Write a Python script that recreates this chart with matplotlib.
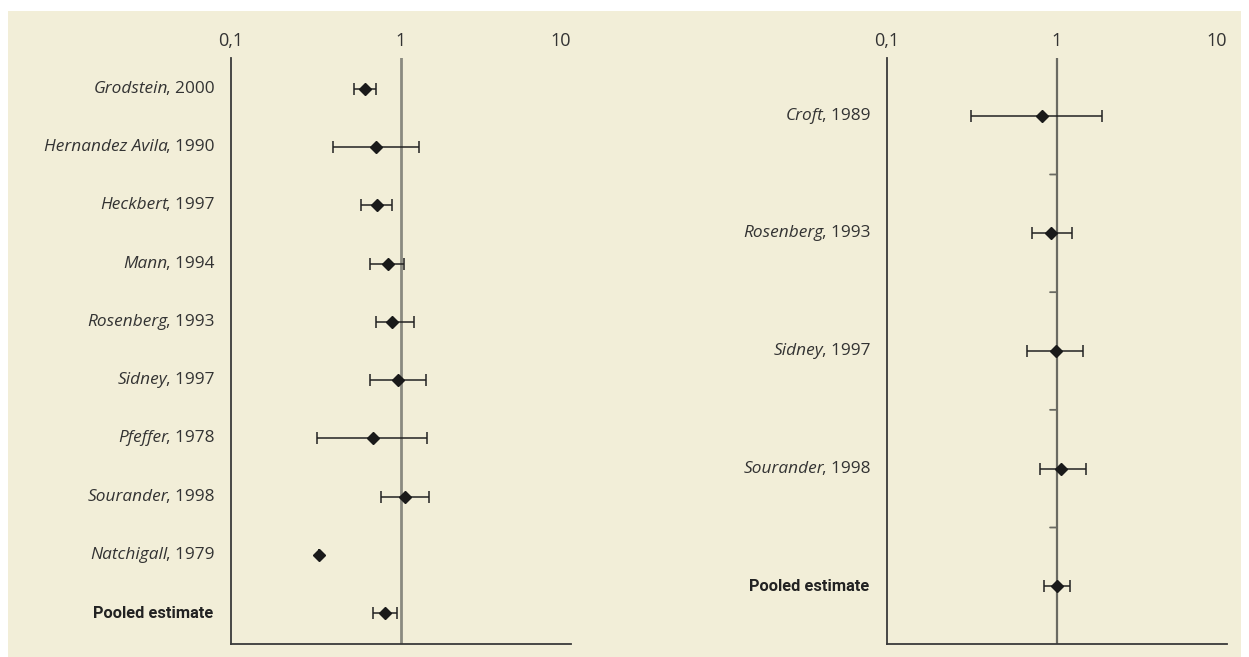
import numpy as np
import matplotlib
matplotlib.use('Agg')
import matplotlib.pyplot as plt
from matplotlib.patches import Rectangle
from matplotlib.transforms import ScaledTranslation

# left panel: all studies
left_names = ['Grodstein', 'Hernandez Avila', 'Heckbert', 'Mann', 'Rosenberg',
              'Sidney', 'Pfeffer', 'Sourander', 'Natchigall']
left_years = ['2000', '1990', '1997', '1994', '1993', '1997', '1978', '1998', '1979']
left_or = [0.61, 0.71, 0.72, 0.84, 0.89, 0.96, 0.68, 1.06, 0.33, 0.81]
left_lo = [0.53, 0.40, 0.58, 0.66, 0.71, 0.66, 0.32, 0.76, 0.33, 0.68]
left_hi = [0.71, 1.28, 0.88, 1.04, 1.20, 1.40, 1.42, 1.47, 0.33, 0.95]

# right panel: subset
right_names = ['Croft', 'Rosenberg', 'Sidney', 'Sourander']
right_years = ['1989', '1993', '1997', '1998']
right_or = [0.82, 0.92, 0.98, 1.06, 1.00]
right_lo = [0.31, 0.71, 0.67, 0.79, 0.84]
right_hi = [1.85, 1.22, 1.42, 1.49, 1.19]

tick_vals = [0.1, 1, 10]
tick_labels = ['0,1', '1', '10']

BG = '#f2eed8'
TXT = '#333333'
W, H = 1249, 657

fig = plt.figure(figsize=(W / 100, H / 100), dpi=100)
fig.patch.set_facecolor('white')
fig.patches.append(Rectangle((8 / W, 0), (1241 - 8) / W, (H - 11) / H,
                             transform=fig.transFigure, facecolor=BG,
                             edgecolor='none', zorder=-10))

name_font = ['Open Sans', 'DejaVu Sans']
bold_font = ['Liberation Sans Narrow', 'Roboto', 'DejaVu Sans']


def px_axes(x0, x1, y0, y1):
    return fig.add_axes([x0 / W, 1 - y1 / H, (x1 - x0) / W, (y1 - y0) / H])


def draw_panel(ax, names, years, vals, lo, hi, ref_color, ref_lw):
    n = len(vals)
    y = np.arange(n)
    ax.set_facecolor('none')
    ax.set_xscale('log')
    ax.set_xlim(0.1, 10)
    pad = 0.53 if n > 6 else 0.49
    ax.set_ylim(n - 1 + pad, -pad)
    ax.axvline(1, color=ref_color, lw=ref_lw, zorder=1)
    err = [np.array(vals) - np.array(lo), np.array(hi) - np.array(vals)]
    ax.errorbar(vals, y, xerr=err, fmt='none', ecolor='#222222', elinewidth=1.1,
                capsize=4, capthick=1.1, zorder=2)
    ax.plot(vals, y, 'D', color='#1a1a1a', markersize=6, zorder=3)

    for s in ['top', 'right']:
        ax.spines[s].set_visible(False)
    for s in ['left', 'bottom']:
        ax.spines[s].set_color('#3a3a3a')
        ax.spines[s].set_linewidth(1.3)
    ax.set_xticks([])
    ax.set_yticks([])
    ax.minorticks_off()

    # tick labels above the top of the axis
    up = ax.get_xaxis_transform() + ScaledTranslation(0, 12 / 72, fig.dpi_scale_trans)
    for v, lab in zip(tick_vals, tick_labels):
        ha = 'right' if v == 10 else 'center'
        ax.text(v, 1.0, lab, transform=up, ha=ha, va='center', fontsize=13,
                color=TXT, family=name_font)

    for i in range(n - 1):
        yr = ax.annotate(', ' + years[i], xy=(0, i), xycoords=('axes fraction', 'data'),
                         xytext=(-12, 0), textcoords='offset points', ha='right',
                         va='center', fontsize=12.4, color=TXT, family=name_font)
        ax.annotate(names[i], xy=(0, 0), xycoords=yr, xytext=(1.5, 0),
                    textcoords='offset points', ha='right', va='bottom',
                    fontsize=12.4, color=TXT, family=name_font, style='italic')
    ax.annotate('Pooled estimate', xy=(0, n - 1), xycoords=('axes fraction', 'data'),
                xytext=(-13, 0), textcoords='offset points', ha='right',
                va='center', fontsize=11.8, color='#222222', family=bold_font,
                fontweight='bold')


ax1 = px_axes(231, 571, 58, 644)
draw_panel(ax1, left_names, left_years, left_or, left_lo, left_hi, '#8a8a80', 2.0)

ax2 = px_axes(887, 1227, 58, 644)
draw_panel(ax2, right_names, right_years, right_or, right_lo, right_hi, '#6a6a62', 1.6)
# small separator ticks on the reference line
for k in range(len(right_or) - 1):
    ax2.annotate('', xy=(1, k + 0.5), xytext=(-5, 0), textcoords='offset points',
                 xycoords='data', arrowprops=dict(arrowstyle='-', color='#6a6a62', lw=1.3,
                                                  shrinkA=0, shrinkB=0))

fig.savefig('out.png', dpi=100, facecolor=fig.get_facecolor())
